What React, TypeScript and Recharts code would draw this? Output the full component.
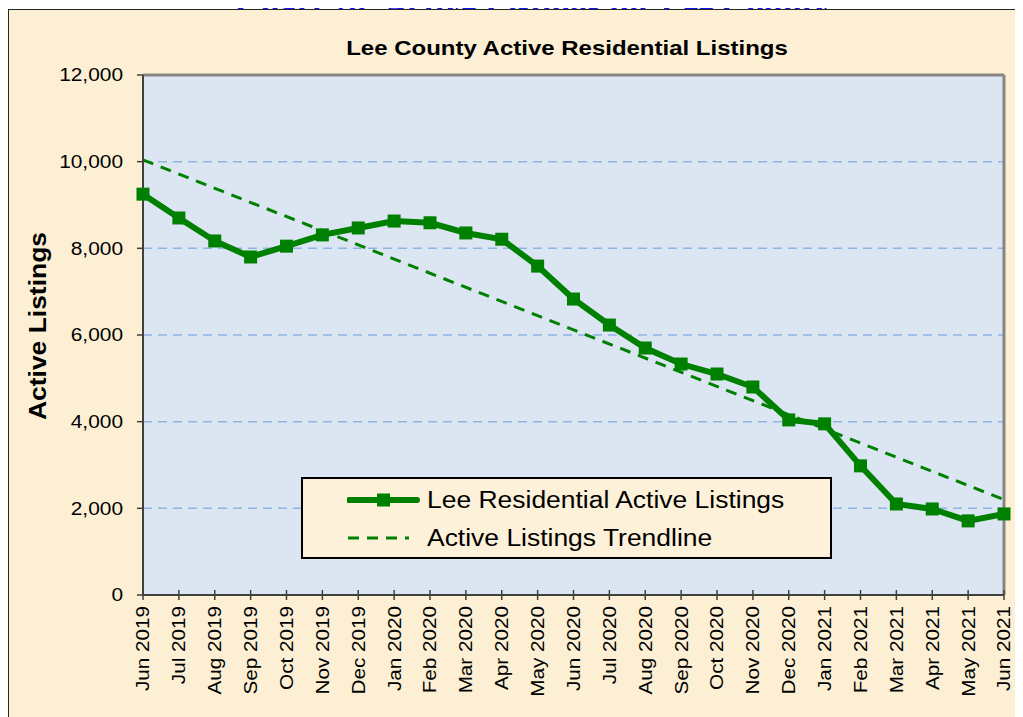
import React from 'react';
import {
  LineChart, Line, XAxis, YAxis, CartesianGrid, ReferenceLine,
} from 'recharts';

const MONTHS = [
  'Jun 2019', 'Jul 2019', 'Aug 2019', 'Sep 2019', 'Oct 2019', 'Nov 2019', 'Dec 2019',
  'Jan 2020', 'Feb 2020', 'Mar 2020', 'Apr 2020', 'May 2020', 'Jun 2020', 'Jul 2020',
  'Aug 2020', 'Sep 2020', 'Oct 2020', 'Nov 2020', 'Dec 2020', 'Jan 2021', 'Feb 2021',
  'Mar 2021', 'Apr 2021', 'May 2021', 'Jun 2021',
];
const LISTINGS = [
  9250, 8700, 8170, 7800, 8050, 8310, 8470, 8630, 8590, 8355, 8210, 7590, 6830,
  6230, 5700, 5330, 5100, 4800, 4040, 3950, 2980, 2100, 1985, 1710, 1870,
];
// trendline read at first and last month
const TREND_START = 10040;
const TREND_END = 2200;
const Y_TICKS = [0, 2000, 4000, 6000, 8000, 10000, 12000];

const SERIES_NAME = 'Lee Residential Active Listings';
const TREND_NAME = 'Active Listings Trendline';

const GREEN = '#008000';
const FONT = 'Arial, "Liberation Sans", sans-serif';
const AXIS = '#404040';
const X_TS = 5;
const X_TM = 6;

const data = MONTHS.map((m, i) => ({ month: m, listings: LISTINGS[i] }));

// ── ticks (text drawn a little wide, like the original) ─────────────────────

function YTick({ x, y, payload }: any) {
  return (
    <g transform={`translate(${x},${y})`}>
      <text
        textAnchor="end"
        dy="0.36em"
        transform="scale(1.16,1)"
        fontFamily={FONT}
        fontSize={18}
        fill="#000"
      >
        {Number(payload.value).toLocaleString('en-US')}
      </text>
    </g>
  );
}

function XTick({ x, y, payload }: any) {
  const off = X_TS + X_TM;
  return (
    <g transform={`translate(${x},${y})`}>
      <line x1={0} x2={0} y1={-off - 5} y2={-off + 5} stroke={AXIS} strokeWidth={1.5} />
      <text
        textAnchor="end"
        dy="0.36em"
        transform="rotate(-90) scale(1.15,1)"
        fontFamily={FONT}
        fontSize={18}
        fill="#000"
      >
        {payload.value}
      </text>
    </g>
  );
}

function Square({ cx, cy }: any) {
  if (cx == null || cy == null) return null;
  return <rect x={cx - 6.5} y={cy - 6.5} width={13} height={13} fill={GREEN} />;
}

function LegendBox() {
  const row = (dashed: boolean, label: string) => (
    <div style={{ display: 'flex', alignItems: 'center', height: 38 }}>
      <svg width={80} height={20} style={{ marginLeft: 44 }}>
        {dashed ? (
          <line x1={1} x2={62} y1={10} y2={10} stroke={GREEN} strokeWidth={3} strokeDasharray="11 8" />
        ) : (
          <>
            <line x1={2} x2={70} y1={10} y2={10} stroke={GREEN} strokeWidth={6} strokeLinecap="round" />
            <rect x={30} y={3.5} width={13} height={13} fill={GREEN} />
          </>
        )}
      </svg>
      <span
        style={{
          fontFamily: FONT,
          fontSize: 23,
          color: '#000',
          display: 'inline-block',
          transform: 'scaleX(1.15)',
          transformOrigin: 'left center',
          whiteSpace: 'nowrap',
        }}
      >
        {label}
      </span>
    </div>
  );
  return (
    <div
      style={{
        position: 'absolute',
        left: 292,
        top: 467,
        width: 531,
        height: 82,
        boxSizing: 'border-box',
        border: '2px solid #000',
        background: '#FDF1D9',
        paddingTop: 2,
      }}
    >
      {row(false, SERIES_NAME)}
      {row(true, TREND_NAME)}
    </div>
  );
}

export default function App() {
  return (
    <div style={{ position: 'relative' }}>
      <style>{'body{overflow:hidden}'}</style>
      <div
        style={{
          position: 'absolute',
          top: -17,
          left: 115,
          width: 820,
          textAlign: 'center',
          fontFamily: '"Liberation Serif", "Times New Roman", serif',
          fontWeight: 'bold',
          fontSize: 31,
          lineHeight: '30px',
          color: '#1515F0',
          whiteSpace: 'nowrap',
          transform: 'scaleX(1.1)',
        }}
      >
        Chart 20: Active Listings for Lee County
      </div>
      <div
        style={{
          position: 'relative',
          marginTop: 1,
          width: 1030,
          height: 720,
          boxSizing: 'border-box',
          borderTop: '1px solid #262626',
          borderLeft: '1px solid #262626',
          background: '#FCEFD4',
        }}
      >
        <div
          style={{
            position: 'absolute',
            left: 258,
            top: 26,
            width: 600,
            textAlign: 'center',
            fontFamily: FONT,
            fontWeight: 'bold',
            fontSize: 20.5,
            lineHeight: '24px',
            transform: 'scaleX(1.17)',
            whiteSpace: 'nowrap',
          }}
        >
          Lee County Active Residential Listings
        </div>
        <div
          style={{
            position: 'absolute',
            left: 29 - 150,
            top: 316 - 14,
            width: 300,
            height: 28,
            lineHeight: '28px',
            textAlign: 'center',
            fontFamily: FONT,
            fontWeight: 'bold',
            fontSize: 23,
            transform: 'rotate(-90deg) scaleX(1.15)',
            whiteSpace: 'nowrap',
          }}
        >
          Active Listings
        </div>
        <LineChart
          width={1014}
          height={705}
          data={data}
          margin={{ top: 65, right: 19, bottom: 10, left: 64 }}
        >
          <CartesianGrid
            vertical={false}
            fill="#DCE6F2"
            fillOpacity={1}
            stroke="#8EB4E3"
            strokeWidth={1.5}
            strokeDasharray="9 6"
          />
          <XAxis
            dataKey="month"
            scale="point"
            interval={0}
            height={110}
            tick={<XTick />}
            tickLine={false}
            tickSize={X_TS}
            tickMargin={X_TM}
            axisLine={{ stroke: AXIS, strokeWidth: 2 }}
          />
          <YAxis
            domain={[0, 12000]}
            ticks={Y_TICKS}
            width={70}
            tick={<YTick />}
            tickSize={6}
            tickMargin={14}
            tickLine={{ stroke: AXIS, strokeWidth: 1.5 }}
            axisLine={{ stroke: AXIS, strokeWidth: 2 }}
          />
          <ReferenceLine y={12000} stroke="#858585" strokeWidth={3} />
          <ReferenceLine x={MONTHS[MONTHS.length - 1]} stroke="#858585" strokeWidth={3} />
          <ReferenceLine
            segment={[
              { x: MONTHS[0], y: TREND_START },
              { x: MONTHS[MONTHS.length - 1], y: TREND_END },
            ]}
            stroke={GREEN}
            strokeWidth={3}
            strokeDasharray="11 8"
          />
          <Line
            type="linear"
            dataKey="listings"
            name={SERIES_NAME}
            stroke={GREEN}
            strokeWidth={6}
            dot={<Square />}
            activeDot={false}
            isAnimationActive={false}
          />
        </LineChart>
        <LegendBox />
      </div>
    </div>
  );
}
